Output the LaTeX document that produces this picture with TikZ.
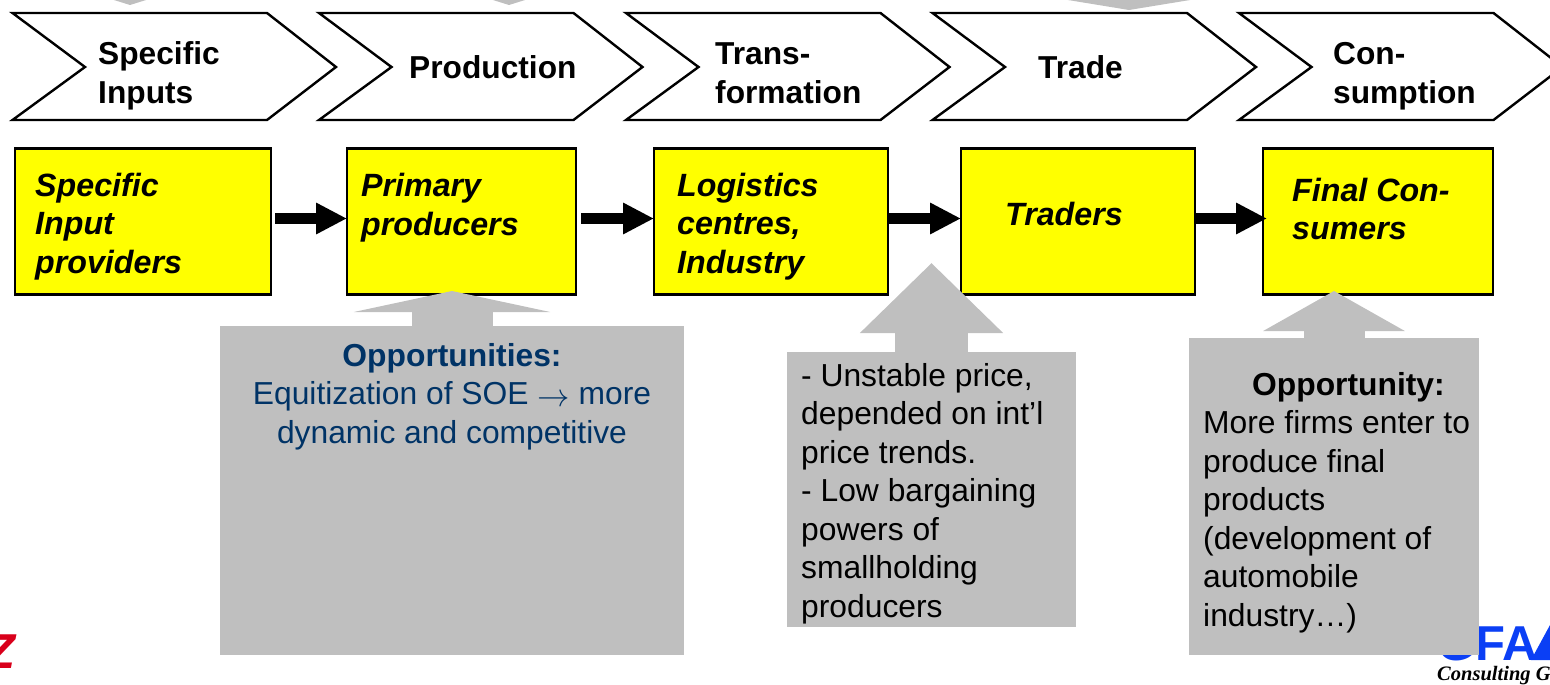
\documentclass[tikz,border=0pt]{standalone}
\usepackage{fontspec}
\setmainfont{Liberation Sans}
\newfontfamily\logoserif{Liberation Serif}
\usepackage{tikz}
\usetikzlibrary{arrows.meta,positioning}
\usepackage{xcolor}
\definecolor{calloutgrey}{HTML}{BFBFBF}
\definecolor{oppblue}{HTML}{003366}
\definecolor{logoblue}{HTML}{0B3FF5}
\definecolor{logored}{HTML}{D9001B}
\definecolor{actoryellow}{HTML}{FFFF00}
\newcommand{\stagearrow}[1]{%
    \draw[stageline,xshift=#1pt] (12.5,13) -- (267,13) -- (336,67) -- (267,120) -- (12.5,120) -- (85,67) -- cycle;%
}

\begin{document}
\begin{tikzpicture}[
    x=1pt, y=-1pt,
    stageline/.style={draw=black, line width=2.4pt, line join=miter, fill=white},
    stagetext/.style={anchor=west, align=left, inner sep=0pt, font=\fontsize{31.7}{39}\selectfont\bfseries},
    actor/.style={draw=black, line width=2.3pt, fill=actoryellow, inner sep=0pt, outer sep=0pt},
    actortext/.style={anchor=west, align=left, inner sep=0pt, font=\fontsize{32.2}{38.5}\selectfont\bfseries\itshape},
    flow/.style={line width=11pt, draw=black, -{Triangle[length=31pt,width=29.5pt]}},
    calloutbox/.style={fill=calloutgrey, inner sep=0pt, outer sep=0pt},
    callouttext/.style={anchor=north west, align=left, inner sep=0pt, font=\fontsize{31.8}{38.5}\selectfont}
]
\useasboundingbox (0,0) rectangle (1550,685);
\clip (0,0) rectangle (1550,685);

% logos, behind the callouts
\node[anchor=base east, inner sep=0pt, text=logored, font=\fontsize{49}{49}\selectfont\bfseries\itshape] (logoleft) at (16,668) {Z};
\node[anchor=base west, inner sep=0pt, text=logoblue, font=\fontsize{49}{49}\selectfont\bfseries] (logoright) at (1437,660) {GFA};
\fill[logoblue] (1531,660) -- (1550,625) -- (1550,660) -- cycle;
\node[anchor=base west, inner sep=0pt, font=\logoserif\fontsize{20.5}{20.5}\selectfont\bfseries\itshape] (logogroup) at (1437,680) {Consulting G};

% stages
\stagearrow{0}
\stagearrow{306.5}
\stagearrow{613.5}
\stagearrow{920}
\stagearrow{1226.5}
\node[stagetext] (inputs) at (98,75.5) {Specific\\Inputs};
\node[stagetext] (production) at (409,67) {Production};
\node[stagetext] (transformation) at (715,73.5) {Trans-\\formation};
\node[stagetext] (trade) at (1038,67) {Trade};
\node[stagetext] (consumption) at (1333,76.5) {Con-\\sumption};

% actors
\node[actor, minimum width=256.5pt, minimum height=146pt] (providers) at (143,221.5) {};
\node[actor, minimum width=229pt, minimum height=146pt] (primary) at (461.5,221.5) {};
\node[actor, minimum width=234pt, minimum height=146pt] (logistics) at (771,221.5) {};
\node[actor, minimum width=234pt, minimum height=146pt] (traders) at (1078,221.5) {};
\node[actor, minimum width=230pt, minimum height=146pt] (consumers) at (1378,221.5) {};
\node[actortext] (providerstext) at (35,226.5) {Specific\\Input\\providers};
\node[actortext] (primarytext) at (361,207.5) {Primary\\producers};
\node[actortext] (logisticstext) at (677,226.5) {Logistics\\centres,\\Industry};
\node[actortext] (traderstext) at (1005,214) {Traders};
\node[actortext] (consumerstext) at (1292,209) {Final Con-\\sumers};

\draw[flow, shorten <=4pt] ([yshift=3pt]providers.east) -- ([yshift=3pt]primary.west);
\draw[flow, shorten <=5pt] ([yshift=3pt]primary.east) -- ([yshift=3pt]logistics.west);
\draw[flow] ([yshift=3pt]logistics.east) -- ([yshift=3pt]traders.west);
\draw[flow, shorten >=-4pt] ([yshift=3pt]traders.east) -- ([yshift=3pt]consumers.west);

% callouts
\node[calloutbox, minimum width=464pt, minimum height=329pt] (opportunities) at (452,490.5) {};
\node[calloutbox, minimum width=289pt, minimum height=275pt] (risks) at (931.5,489.5) {};
\node[calloutbox, minimum width=290pt, minimum height=317pt] (opportunity) at (1334,496.5) {};
\coordinate (opportunitiestip) at (452,291);
\coordinate (riskstip) at (931.5,263);
\coordinate (opportunitytip) at (1334,291);
\draw[draw=calloutgrey, line width=81pt, -{Triangle[length=21pt,width=196pt]}] (opportunities.north) -- (opportunitiestip);
\draw[draw=calloutgrey, line width=72.5pt, -{Triangle[length=70pt,width=139pt]}] (risks.north) -- (riskstip);
\draw[draw=calloutgrey, line width=61pt, -{Triangle[length=40pt,width=140pt]}] (opportunity.north) -- (opportunitytip);

% tips of the arrows coming from above the picture
\coordinate (inputstop) at (130,5);
\coordinate (productiontop) at (509,5);
\coordinate (tradetop) at (1129,10);
\draw[draw=calloutgrey, line width=10pt, -{Triangle[length=10pt,width=64pt]}] (130,-40) -- (inputstop);
\draw[draw=calloutgrey, line width=10pt, -{Triangle[length=10pt,width=64pt]}] (509,-40) -- (productiontop);
\draw[draw=calloutgrey, line width=10pt, -{Triangle[length=20pt,width=244pt]}] (1129,-40) -- (tradetop);

\node[anchor=north, align=center, inner sep=0pt, text=oppblue, font=\fontsize{31.8}{38.5}\selectfont] (opportunitiestext) at (452,343)
    {\textbf{Opportunities:}\\Equitization of SOE \raisebox{-2pt}{\scalebox{1.3}{$\rightarrow$}} more\\dynamic and competitive};
\node[callouttext] (riskstext) at (801,363)
    {- Unstable price,\\depended on int’l\\price trends.\\- Low bargaining\\powers of\\smallholding\\producers};
\node[callouttext] (opportunitytext) at (1203,372)
    {\hspace*{49pt}\textbf{Opportunity:}\\More firms enter to\\produce final\\products\\(development of\\automobile\\industry…)};
\end{tikzpicture}
\end{document}
